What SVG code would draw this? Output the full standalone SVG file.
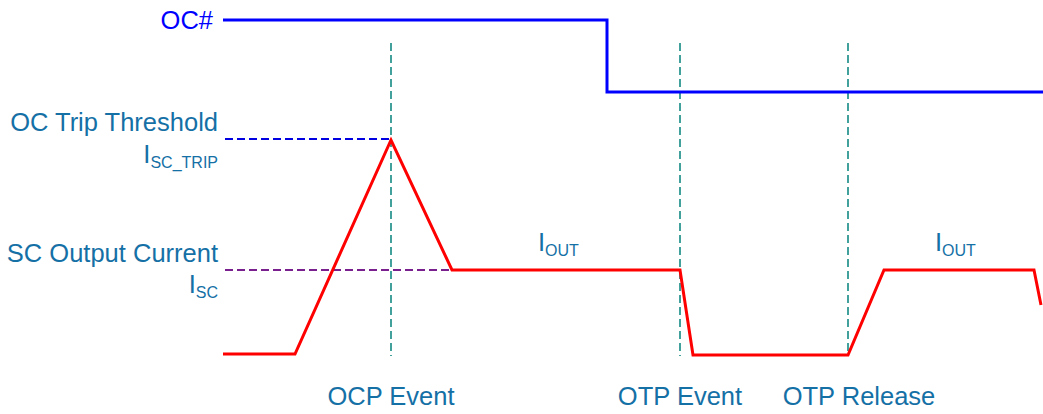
<svg xmlns="http://www.w3.org/2000/svg" width="1043" height="414" viewBox="0 0 1043 414">
<style>
text{font-family:"Liberation Sans",Arial,sans-serif;font-size:25.5px;fill:#1570a6}
.sub{font-size:16px}
.oc{fill:#0000ff}
.evt{stroke:#158a84;stroke-width:1.6;stroke-dasharray:8,4;fill:none}
</style>
<rect width="1043" height="414" fill="#fff"/>
<g id="labels">
<text class="oc" x="213" y="29" text-anchor="end">OC#</text>
<text x="218" y="131" text-anchor="end">OC Trip Threshold</text>
<text x="218" y="163" text-anchor="end">I<tspan class="sub" dy="5">SC_TRIP</tspan></text>
<text x="218" y="262" text-anchor="end">SC Output Current</text>
<text x="218" y="293" text-anchor="end">I<tspan class="sub" dy="5">SC</tspan></text>
<text x="538" y="251">I<tspan class="sub" dy="5">OUT</tspan></text>
<text x="935" y="251">I<tspan class="sub" dy="5">OUT</tspan></text>
<text x="391" y="405" text-anchor="middle">OCP Event</text>
<text x="680" y="405" text-anchor="middle">OTP Event</text>
<text x="859" y="405" text-anchor="middle">OTP Release</text>
</g>
<g id="connectors">
<line class="evt" x1="391" y1="43" x2="391" y2="356"/>
<line class="evt" x1="680" y1="43" x2="680" y2="356"/>
<line class="evt" x1="848" y1="43" x2="848" y2="356"/>
<line x1="225" y1="139" x2="391" y2="139" stroke="#0000e0" stroke-width="1.8" stroke-dasharray="8,4"/>
<line x1="225" y1="270" x2="452" y2="270" stroke="#7a1f8e" stroke-width="1.8" stroke-dasharray="8,4"/>
<polyline id="oc-signal" points="223,20 607,20 607,92 1043,92" fill="none" stroke="#0000ff" stroke-width="3"/>
<polyline id="current" points="223,354 295,354 391,140 452,270 680,270 693,355 848,355 884,270 1034,270 1041,305" fill="none" stroke="#ff0000" stroke-width="3" stroke-linejoin="miter"/>
</g>
</svg>
